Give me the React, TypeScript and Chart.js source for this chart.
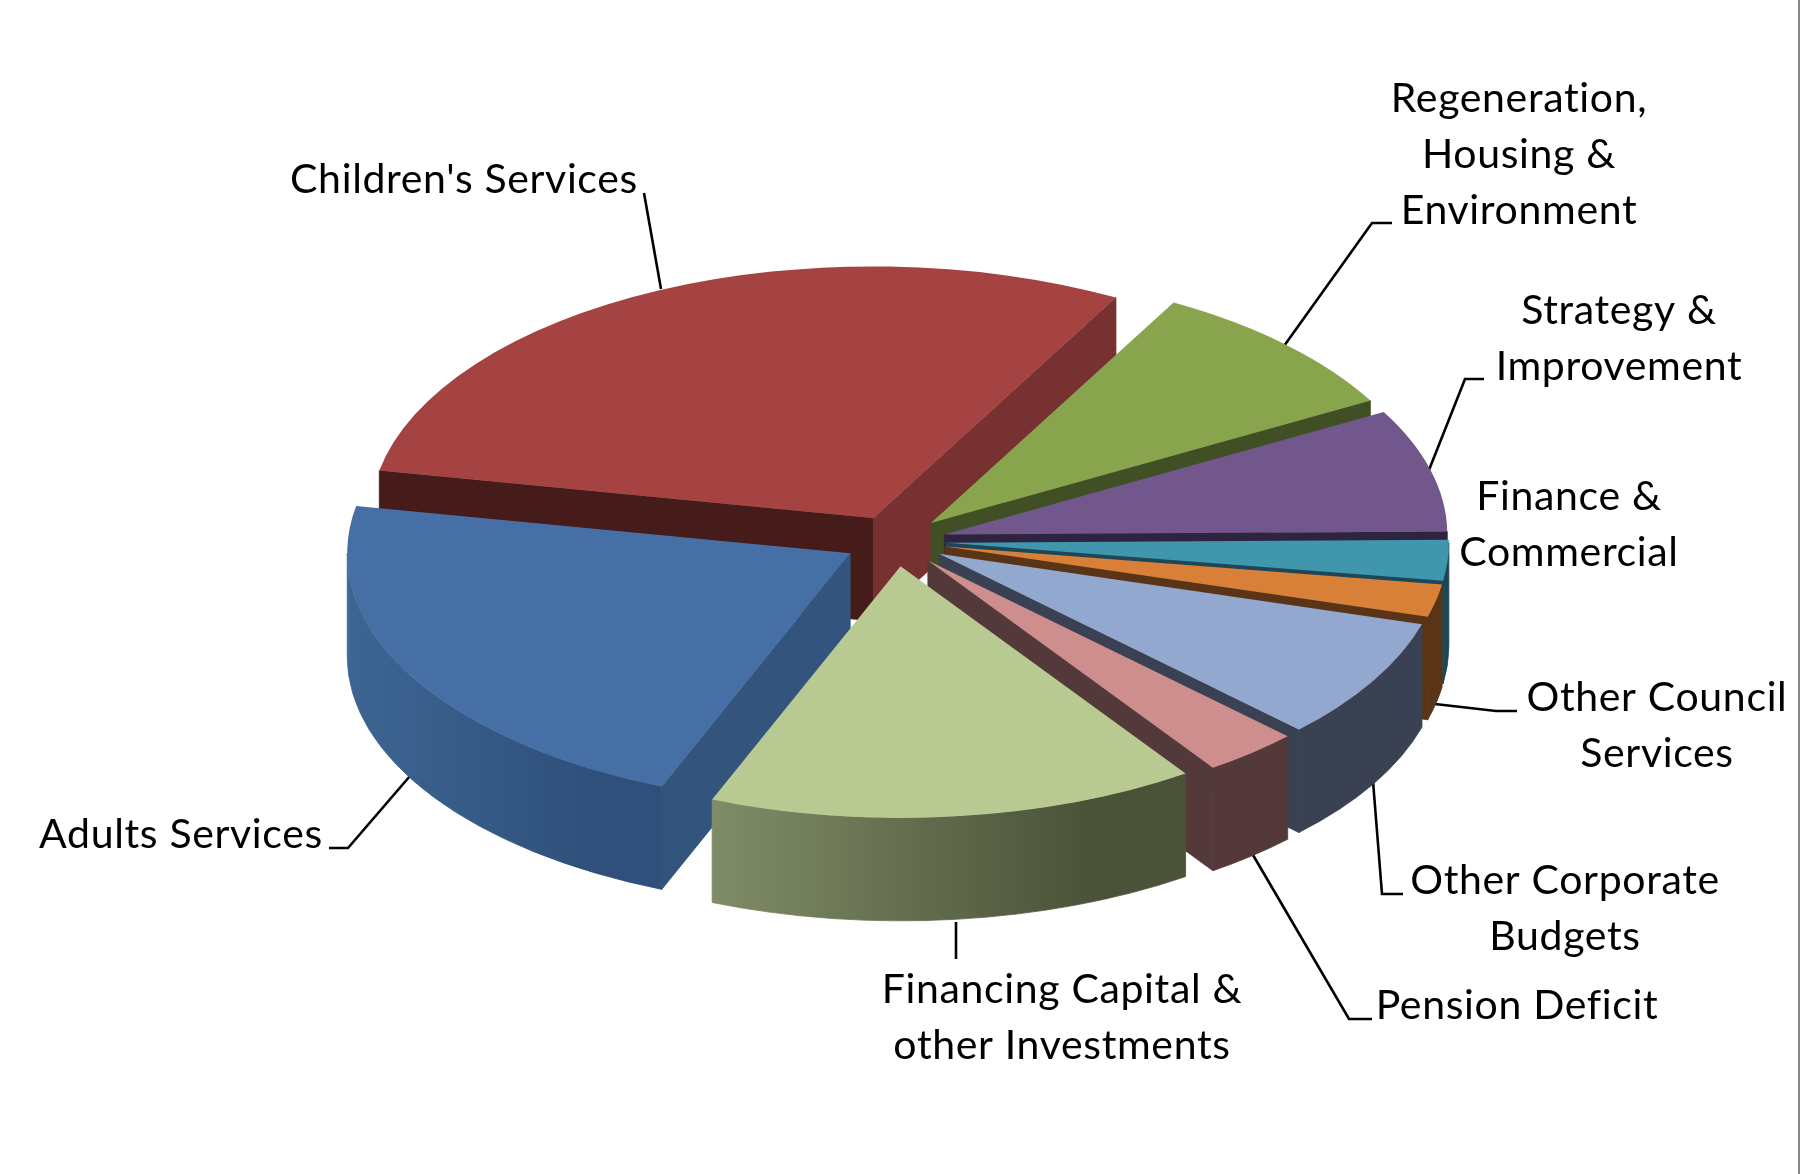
import React, { useEffect, useRef } from "react";
import { Chart, registerables } from "chart.js";

Chart.register(...registerables);

// ---- data (clockwise, first slice starts at the rotation below) ----
const categories = [
  "Adults Services",
  "Children's Services",
  "Regeneration, Housing & Environment",
  "Strategy & Improvement",
  "Finance & Commercial",
  "Other Council Services",
  "Other Corporate Budgets",
  "Pension Deficit",
  "Financing Capital & other Investments",
];
const shares = [21.9, 30.0, 8.9, 7.9, 2.6, 2.1, 7.8, 3.1, 15.7];

// ---- colours ----
const topColours = ["#4670A5", "#A54342", "#88A44D", "#71578C", "#4096AD", "#D98038", "#92A8CF", "#CF8E8E", "#B8CA92"];
const startFaceColours = ["#32547D", "#451C19", "#405024", "#2E2440", "#1D4757", "#593417", "#3A4152", "#53393A", "#4B5338"];
const endFaceColours = ["#32547D", "#763130", "#405024", "#2E2440", "#1D4757", "#593417", "#3A4152", "#53393A", "#4B5338"];
const wallStops: string[][] = [
  ["#3E6593", "#2E507A"],
  ["#763130", "#763130"],
  ["#405024", "#405024"],
  ["#2E2440", "#2E2440"],
  ["#1D4757", "#1D4757"],
  ["#593417", "#593417"],
  ["#3A4152", "#3A4152"],
  ["#53393A", "#53393A"],
  ["#808C67", "#4A5238"],
];

// ---- projection of the flat pie into the 3D look ----
const WIDTH = 1800;
const HEIGHT = 1174;
const ROTATION = 202;
const EXPLODE = 51;
const SQUASH = 0.5;
const DEPTH = 103;
const CENTRE_Y = 541;
const PADDING = { left: 392, right: 402, top: 84, bottom: 84 };

// ---- label layout ----
const FONT = "41px Lato";
const LETTER_SPACING = "0.65px";
const labelLayout = [
  { lines: ["Children's Services"], x: 464, y: [193] },
  { lines: ["Regeneration,", "Housing &", "Environment"], x: 1519, y: [112, 168, 224] },
  { lines: ["Strategy &", "Improvement"], x: 1619, y: [324, 380] },
  { lines: ["Finance &", "Commercial"], x: 1569, y: [510, 566] },
  { lines: ["Other Council", "Services"], x: 1657, y: [711, 767] },
  { lines: ["Other Corporate", "Budgets"], x: 1565, y: [894, 950] },
  { lines: ["Pension Deficit"], x: 1517, y: [1019] },
  { lines: ["Financing Capital &", "other Investments"], x: 1062, y: [1003, 1059] },
  { lines: ["Adults Services"], x: 181, y: [848] },
];
const leaderLines: number[][][] = [
  [[644, 193], [661, 289]],
  [[1392, 223], [1372, 223], [1284, 346]],
  [[1484, 379], [1465, 379], [1429, 470]],
  [[1517, 711], [1496, 711], [1435, 704]],
  [[1403, 894], [1382, 894], [1373, 781]],
  [[1372, 1019], [1349, 1019], [1253, 855]],
  [[956, 959], [956, 922]],
  [[329, 848], [348, 848], [410, 776]],
];

const pie3d = {
  id: "pie3d",
  beforeDatasetDraw(chart: any, args: any) {
    const ctx: CanvasRenderingContext2D = chart.ctx;
    const arcs: any[] = args.meta.data;
    const order = arcs
      .map((a, i) => ({ i, y: Math.sin((a.startAngle + a.endAngle) / 2) }))
      .sort((p, q) => p.y - q.y);
    const cyFlat = arcs[0].y;

    // leader lines sit behind the slices
    ctx.save();
    ctx.strokeStyle = "#000";
    ctx.lineWidth = 2.6;
    ctx.lineJoin = "miter";
    for (const line of leaderLines) {
      ctx.beginPath();
      line.forEach(([x, y], i) => (i ? ctx.lineTo(x, y) : ctx.moveTo(x, y)));
      ctx.stroke();
    }
    ctx.restore();

    for (const { i } of order) {
      const arc = arcs[i];
      const { startAngle: a1, endAngle: a2, outerRadius: r } = arc;
      const mid = (a1 + a2) / 2;
      const dx = Math.cos(mid) * EXPLODE;
      const dy = Math.sin(mid) * EXPLODE;
      const tx = arc.x + dx;
      const ty = CENTRE_Y + SQUASH * (arc.y - cyFlat + dy);
      const rim = (a: number): [number, number] => [tx + Math.cos(a) * r, ty + Math.sin(a) * r * SQUASH];

      const face = (a: number, colour: string) => {
        const [px, py] = rim(a);
        ctx.beginPath();
        ctx.moveTo(tx, ty);
        ctx.lineTo(px, py);
        ctx.lineTo(px, py + DEPTH);
        ctx.lineTo(tx, ty + DEPTH);
        ctx.closePath();
        ctx.fillStyle = colour;
        ctx.fill();
        ctx.strokeStyle = colour;
        ctx.lineWidth = 0.8;
        ctx.stroke();
      };
      // cut faces that look towards the viewer
      if (Math.cos(a1) < 0) face(a1, startFaceColours[i]);
      if (Math.cos(a2) > 0) face(a2, endFaceColours[i]);

      // outer wall: only the front half of the rim
      for (let n = -1; n <= 1; n++) {
        const lo = Math.max(a1, 2 * Math.PI * n);
        const hi = Math.min(a2, Math.PI + 2 * Math.PI * n);
        if (hi <= lo) continue;
        const xa = rim(lo)[0];
        const xb = rim(hi)[0];
        const g = ctx.createLinearGradient(Math.min(xa, xb), 0, Math.max(xa, xb), 0);
        const stops = wallStops[i];
        g.addColorStop(0, stops[0]);
        g.addColorStop(0.8, stops[1]);
        g.addColorStop(1, stops[1]);
        ctx.beginPath();
        ctx.ellipse(tx, ty, r, r * SQUASH, 0, lo, hi, false);
        ctx.ellipse(tx, ty + DEPTH, r, r * SQUASH, 0, hi, lo, true);
        ctx.closePath();
        ctx.fillStyle = g;
        ctx.fill();
        ctx.strokeStyle = g;
        ctx.lineWidth = 0.8;
        ctx.stroke();
      }

      // the slice's own flat top, drawn by the library's arc element
      ctx.save();
      ctx.translate(dx, ty);
      ctx.scale(1, SQUASH);
      ctx.translate(0, -arc.y);
      arc.draw(ctx, chart.chartArea);
      ctx.restore();
    }
    return false;
  },
  afterDraw(chart: any) {
    const ctx: any = chart.ctx;
    ctx.save();
    ctx.fillStyle = "#868686";
    ctx.fillRect(chart.width - 2, 0, 2, chart.height);
    ctx.font = FONT;
    ctx.letterSpacing = LETTER_SPACING;
    ctx.fillStyle = "#000";
    ctx.textAlign = "center";
    ctx.textBaseline = "alphabetic";
    for (const item of labelLayout) {
      item.lines.forEach((text, i) => ctx.fillText(text, item.x, item.y[i]));
    }
    ctx.restore();
  },
};

export default function App() {
  const ref = useRef<HTMLCanvasElement>(null);
  useEffect(() => {
    document.body.style.margin = "0";
    document.body.style.background = "#fff";
    const chart = new Chart(ref.current!, {
      type: "pie",
      data: {
        labels: categories,
        datasets: [
          {
            data: shares,
            backgroundColor: topColours,
            borderWidth: 0,
            clip: false,
          } as any,
        ],
      },
      options: {
        responsive: false,
        animation: false,
        rotation: ROTATION,
        layout: { padding: PADDING },
        plugins: { legend: { display: false }, tooltip: { enabled: false } },
        events: [],
      },
      plugins: [pie3d],
    });
    return () => chart.destroy();
  }, []);
  return <canvas ref={ref} width={WIDTH} height={HEIGHT} style={{ display: "block", width: WIDTH, height: HEIGHT }} />;
}
